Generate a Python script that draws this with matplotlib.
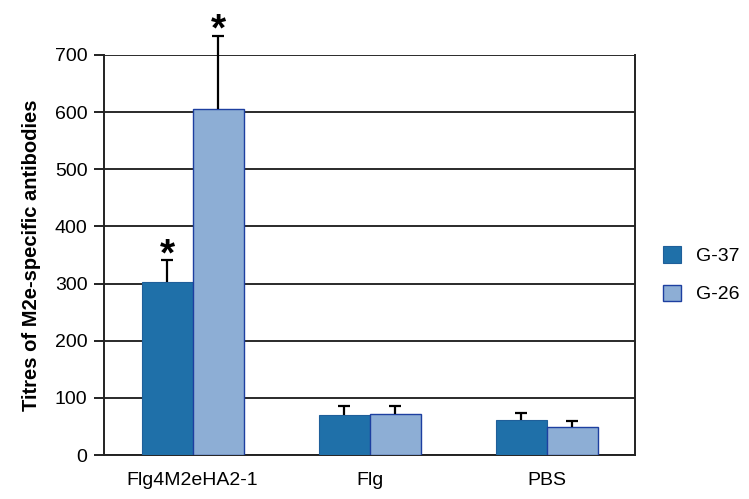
import matplotlib
matplotlib.use('Agg')
import matplotlib.pyplot as plt
import numpy as np

plt.rcParams['font.family'] = ['Liberation Sans', 'DejaVu Sans']

categories = ['Flg4M2eHA2-1', 'Flg', 'PBS']
series_names = ['G-37', 'G-26']
g37 = [303, 70, 62]
g37_err = [38, 15, 11]
g26 = [605, 71, 50]
g26_err = [128, 14, 9]
stars = [True, False, False]

fig = plt.figure(figsize=(7.49, 4.99), dpi=100)
ax = fig.add_axes([0.139, 0.088, 0.709, 0.802])

x = np.arange(len(categories))
w = 0.288
cap = 0.032
ax.bar(x - w / 2, g37, w, color='#1f70a9', edgecolor='#1f5f9a', linewidth=0.8,
       label=series_names[0], zorder=3)
ax.bar(x + w / 2, g26, w, color='#8daed5', edgecolor='#1d3fa0', linewidth=1.0,
       label=series_names[1], zorder=3)

# error bars: only the upper half, with a cap
for xs, vals, errs in [(x - w / 2, g37, g37_err), (x + w / 2, g26, g26_err)]:
    tops = np.array(vals) + np.array(errs)
    ax.vlines(xs, vals, tops, color='black', linewidth=1.6, zorder=4, clip_on=False)
    ax.hlines(tops, xs - cap, xs + cap, color='black', linewidth=1.6, zorder=4, clip_on=False)

for i, s in enumerate(stars):
    if s:
        for xs, v, e in [(x[i] - w / 2, g37[i], g37_err[i]), (x[i] + w / 2, g26[i], g26_err[i])]:
            ax.annotate('*', (xs, v + e), xytext=(0, -3.5), textcoords='offset points',
                        ha='center', va='baseline', fontsize=28, fontweight='bold',
                        annotation_clip=False)

ax.set_xlim(-0.5, 2.5)
ax.set_ylim(0, 700)
ax.set_yticks(np.arange(0, 701, 100))
ax.set_xticks(x)
ax.set_xticklabels(categories, fontsize=14)
ax.tick_params(axis='x', length=0, pad=12)
ax.tick_params(axis='y', labelsize=14, direction='out', length=7, width=1.4,
               color='#222222', pad=5)
ax.yaxis.grid(True, color='#2a2a2a', linewidth=1.4, zorder=0)
ax.set_axisbelow(True)
ax.spines['top'].set_visible(False)
for sp in ['left', 'right', 'bottom']:
    ax.spines[sp].set_color('#222222')
    ax.spines[sp].set_linewidth(1.4)
ax.set_ylabel('Titres of M2e-specific antibodies', fontsize=14.5, fontweight='bold',
              labelpad=10)

ax.legend(loc='center left', bbox_to_anchor=(1.02, 0.45), frameon=False, fontsize=14,
          handlelength=0.9, handleheight=0.9, labelspacing=1.0, handletextpad=0.8)

plt.savefig('out.png', dpi=100)
